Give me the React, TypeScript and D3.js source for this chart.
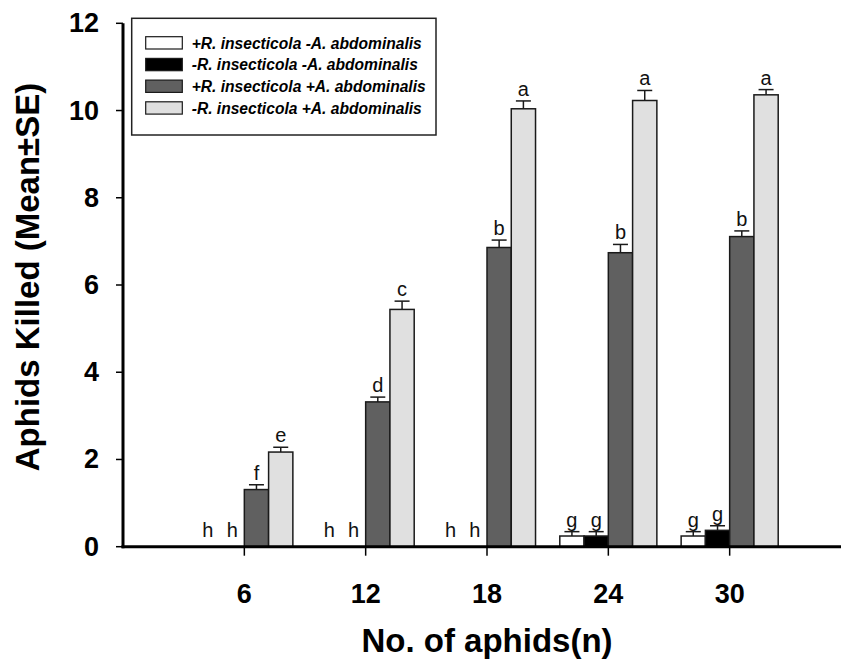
import React from "react";
import * as d3 from "d3";

const categories = [6, 12, 18, 24, 30];
const seriesNames = [
  "+R. insecticola -A. abdominalis",
  "-R. insecticola -A. abdominalis",
  "+R. insecticola +A. abdominalis",
  "-R. insecticola +A. abdominalis",
];
const seriesColors = ["#ffffff", "#000000", "#606060", "#e0e0e0"];
const meanWhite = [0, 0, 0, 0.245, 0.245];
const meanBlack = [0, 0, 0, 0.245, 0.375];
const meanDark = [1.31, 3.32, 6.86, 6.74, 7.11];
const meanLight = [2.17, 5.44, 10.04, 10.23, 10.36];
const seWhite = [0, 0, 0, 0.1, 0.1];
const seBlack = [0, 0, 0, 0.1, 0.105];
const seDark = [0.11, 0.11, 0.17, 0.19, 0.13];
const seLight = [0.11, 0.19, 0.18, 0.23, 0.12];
const lettersWhite = ["h", "h", "h", "g", "g"];
const lettersBlack = ["h", "h", "h", "g", "g"];
const lettersDark = ["f", "d", "b", "b", "b"];
const lettersLight = ["e", "c", "a", "a", "a"];
const yTicks = [0, 2, 4, 6, 8, 10, 12];

const means = [meanWhite, meanBlack, meanDark, meanLight];
const ses = [seWhite, seBlack, seDark, seLight];
const letters = [lettersWhite, lettersBlack, lettersDark, lettersLight];

const FONT = "'Liberation Sans', Arial, Helvetica, sans-serif";

export default function App() {
  const W = 841;
  const H = 665;
  const x = d3.scaleLinear().domain([0, 36]).range([123, 851]);
  const y = d3.scaleLinear().domain([0, 12]).range([546.7, 23.3]);
  const bw = x(1.2) - x(0);
  const capW = 15;
  const stroke = "#1a1a1a";

  return (
    <svg
      width={W}
      height={H}
      style={{ position: "absolute", left: 0, top: 0, background: "#fff" }}
      fontFamily={FONT}
    >
      <rect x={0} y={0} width={W} height={H} fill="#fff" />
      {/* bars */}
      {means.map((vals, si) =>
        vals.map((v, ci) => {
          const cx = x(categories[ci]);
          const x0 = cx + (si - 2) * bw;
          const top = y(v);
          const capY = y(v + ses[si][ci]);
          const mid = x0 + bw / 2;
          const labelY = Math.min(capY - 5, y(0) - 10);
          return (
            <g key={`${si}-${ci}`}>
              {v > 0 && (
                <>
                  <line x1={mid} x2={mid} y1={top} y2={capY} stroke={stroke} strokeWidth={1.5} />
                  <line x1={mid - capW / 2} x2={mid + capW / 2} y1={capY} y2={capY} stroke={stroke} strokeWidth={1.5} />
                  <rect
                    x={x0}
                    y={top}
                    width={bw}
                    height={y(0) - top}
                    fill={seriesColors[si]}
                    stroke={stroke}
                    strokeWidth={1.5}
                  />
                </>
              )}
              <text x={mid} y={labelY} textAnchor="middle" fontSize={20} fill="#111">
                {letters[si][ci]}
              </text>
            </g>
          );
        })
      )}
      {/* y axis */}
      <line x1={123} x2={123} y1={y(12)} y2={y(0) + 1.5} stroke="#000" strokeWidth={3} />
      {yTicks.map((t) => (
        <g key={t}>
          <line x1={116} x2={123} y1={y(t)} y2={y(t)} stroke="#000" strokeWidth={1.5} />
          <text
            x={99}
            y={y(t)}
            textAnchor="end"
            dominantBaseline="central"
            fontSize={27}
            fontWeight="bold"
          >
            {t}
          </text>
        </g>
      ))}
      {/* x axis */}
      <line x1={121.5} x2={841} y1={y(0)} y2={y(0)} stroke="#000" strokeWidth={3} />
      {categories.map((c) => (
        <g key={c}>
          <line x1={x(c)} x2={x(c)} y1={y(0)} y2={y(0) + 9} stroke="#000" strokeWidth={1.5} />
          <text x={x(c)} y={603} textAnchor="middle" fontSize={27} fontWeight="bold">
            {c}
          </text>
        </g>
      ))}
      <text x={487} y={652} textAnchor="middle" fontSize={33} fontWeight="bold">
        No. of aphids(n)
      </text>
      <text
        transform={`translate(39, 277) rotate(-90)`}
        textAnchor="middle"
        fontSize={33}
        fontWeight="bold"
      >
        Aphids Killed (Mean±SE)
      </text>
      {/* legend */}
      <rect x={131.7} y={18.3} width={304.3} height={116.7} fill="#fff" stroke="#222" strokeWidth={1.5} />
      {seriesNames.map((n, i) => {
        const ry = 36.7 + i * 21.7;
        return (
          <g key={n}>
            <rect x={145.7} y={ry} width={36.6} height={12.3} fill={seriesColors[i]} stroke={stroke} strokeWidth={1.2} />
            <text x={191.7} y={ry + 11.8} fontSize={15.6} fontWeight="bold" fontStyle="italic">
              {n}
            </text>
          </g>
        );
      })}
    </svg>
  );
}
